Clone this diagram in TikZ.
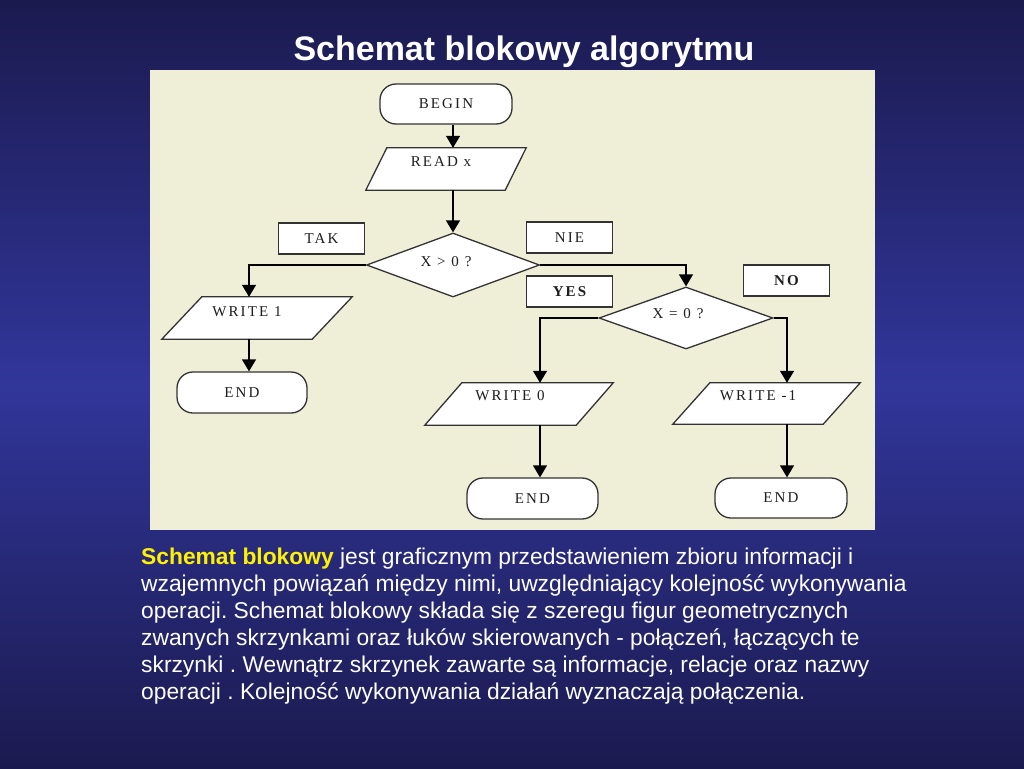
\documentclass[tikz,border=0pt]{standalone}
\usepackage{fontspec}
\setmainfont{Liberation Sans}
\newfontfamily\fcfont[LetterSpace=14]{Liberation Serif}
\usetikzlibrary{shapes.geometric,arrows.meta}
\definecolor{bgdark}{HTML}{1B1A4F}
\definecolor{bglight}{HTML}{31369A}
\definecolor{panel}{HTML}{EFEED6}
\definecolor{ink}{HTML}{1E1E1E}
\definecolor{edge}{HTML}{333333}
\newcommand{\ioshape}[5]{%
  \node[io,minimum width=#3,minimum height=#4] (#1) at (#2) {};
  \draw[shp] ([xshift=#5]#1.north west) -- (#1.north east) -- ([xshift=-#5]#1.south east) -- (#1.south west) -- cycle;
}
\frenchspacing
\begin{document}
\begin{tikzpicture}[x=1pt,y=-1pt,
  shp/.style={draw=edge,line width=1.3pt,fill=white},
  fc/.style={font=\fcfont\fontsize{15}{17}\selectfont,text=ink},
  term/.style={shp,fc,rounded corners=16pt,inner sep=0pt},
  lab/.style={shp,fc,rectangle,inner sep=0pt,minimum width=86pt,minimum height=31pt},
  labb/.style={lab,font=\fcfont\bfseries\fontsize{15}{17}\selectfont},
  dec/.style={shp,diamond,inner sep=0pt},
  io/.style={rectangle,inner sep=0pt,draw=none},
  txt/.style={fc,inner sep=0pt},
  arr/.style={draw=black,line width=1.3pt,-{Triangle[width=14pt,length=12pt]}},
  body/.style={anchor=base west,inner sep=0pt,text=white,font=\fontsize{22.8}{27}\selectfont}
]
\useasboundingbox (0,0) rectangle (1024,768);
\shade[top color=bgdark,bottom color=bgdark,middle color=bglight] (0,0) rectangle (1024,768);
\fill[panel] (150,70) rectangle (875,530);

\node[anchor=base,inner sep=0pt,text=white,font=\bfseries\fontsize{34}{40}\selectfont] (title) at (524,60) {Schemat blokowy algorytmu};

% columns for connectors
\coordinate (c453) at (453,0);
\coordinate (c249) at (249,0);
\coordinate (c540) at (540,0);
\coordinate (c787) at (787,0);

% terminals
\node[term,minimum width=132pt,minimum height=40pt] (begin) at (446,104) {BEGIN};
\node[term,minimum width=130pt,minimum height=41pt] (end1) at (242,392.5) {END};
\node[term,minimum width=131pt,minimum height=41pt] (end2) at (532.5,498.5) {END};
\node[term,minimum width=132pt,minimum height=40pt] (end3) at (781,498) {END};

% input/output
\ioshape{read}{446,169}{160pt}{42pt}{21pt}
\node[txt] (readt) at (441,162) {READ x};
\ioshape{w1}{257,318}{190pt}{42pt}{40pt}
\node[txt] (w1t) at (247,312) {WRITE 1};
\ioshape{w0}{519,404}{188pt}{42pt}{37pt}
\node[txt] (w0t) at (510,396) {WRITE 0};
\ioshape{wm}{766.5,403.5}{187pt}{41pt}{37pt}
\node[txt] (wmt) at (758,396) {WRITE -1};

% decisions
\node[dec,minimum width=173pt,minimum height=64pt] (d1) at (453,265) {};
\node[txt] (d1t) at (446,262) {X > 0 ?};
\node[dec,minimum width=174pt,minimum height=62pt] (d2) at (686,318) {};
\node[txt] (d2t) at (678,314) {X = 0 ?};

% labels
\node[lab] (tak) at (321.5,238.5) {TAK};
\node[lab] (nie) at (569.5,237.5) {NIE};
\node[labb] (yes) at (569.5,291.5) {YES};
\node[labb] (no) at (786.5,280.5) {NO};

% connectors
\draw[arr] (begin.south -| c453) -- (read.north -| c453);
\draw[arr] (read.south -| c453) -- (d1.north);
\draw[arr] (d1.west) -| (w1.north -| c249);
\draw[arr] (d1.east) -| (d2.north);
\draw[arr] (d2.west) -| (w0.north -| c540);
\draw[arr] (d2.east) -| (wm.north -| c787);
\draw[arr] (w1.south -| c249) -- (end1.north -| c249);
\draw[arr] (w0.south -| c540) -- (end2.north -| c540);
\draw[arr] (wm.south -| c787) -- (end3.north -| c787);

% body text
\node[body] (t1) at (141,564) {\textcolor{yellow}{\bfseries Schemat blokowy} jest graficznym przedstawieniem zbioru informacji i};
\node[body] (t2) at (141,591) {wzajemnych powiązań między nimi, uwzględniający kolejność wykonywania};
\node[body] (t3) at (141,618) {operacji. Schemat blokowy składa się z szeregu figur geometrycznych};
\node[body] (t4) at (141,645) {zwanych skrzynkami oraz łuków skierowanych - połączeń, łączących te};
\node[body] (t5) at (141,672) {skrzynki . Wewnątrz skrzynek zawarte są informacje, relacje oraz nazwy};
\node[body] (t6) at (141,699) {operacji . Kolejność wykonywania działań wyznaczają połączenia.};
\end{tikzpicture}
\end{document}
